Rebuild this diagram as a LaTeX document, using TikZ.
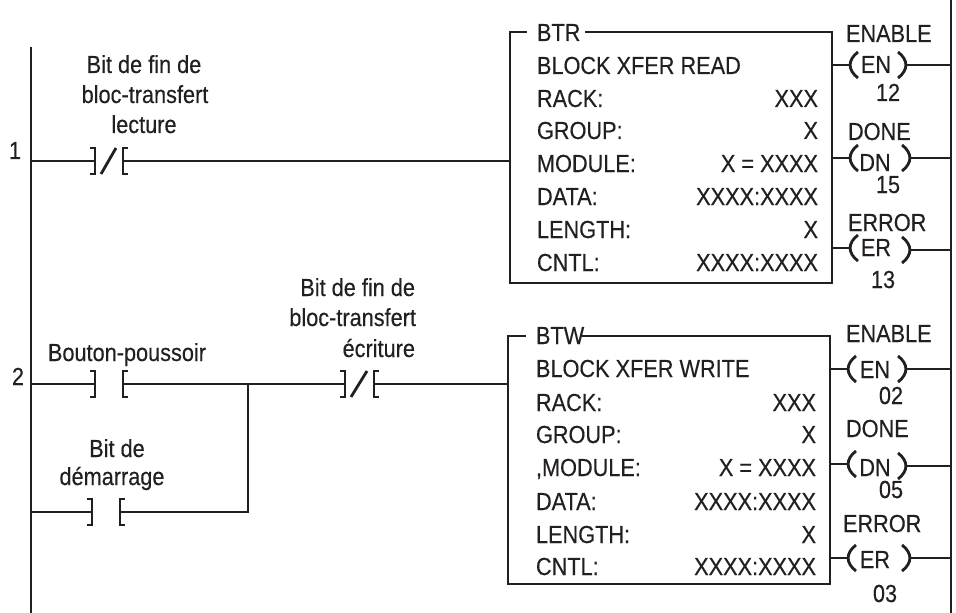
\documentclass[tikz,border=0pt]{standalone}
\usepackage{fontspec}
\setmainfont[FakeStretch=0.88,FakeBold=0.3]{Liberation Sans}
\definecolor{ink}{HTML}{231F20}
\tikzset{
  wire/.style={draw=ink,line width=2.1pt,line cap=butt},
  thin wire/.style={draw=ink,line width=2.1pt},
  lbl/.style={anchor=base,inner sep=0pt,outer sep=0pt,text=ink,font=\fontsize{18.5pt}{19pt}\selectfont},
  lblL/.style={lbl,anchor=base west},
  lblR/.style={lbl,anchor=base east},
  block/.style={draw=ink,line width=2.1pt,rectangle,inner sep=0pt,outer sep=0pt,fill=white}
}
\newcommand{\brackets}[2]{%
  \draw[thin wire] ([shift={(-5,-13)}]#1) -- ++(5,0) -- ++(0,26) -- ++(-5,0);
  \draw[thin wire] ([shift={(5,-13)}]#2) -- ++(-5,0) -- ++(0,26) -- ++(5,0);}
\newcommand{\slashmark}[2]{%
  \draw[thin wire] ([shift={(6,13)}]#1) -- ([shift={(-7,-13)}]#2);}
\newcommand{\parens}[2]{%
  \draw[thin wire] ([shift={(8,-13)}]#1) .. controls ([shift={(-2.5,-5)}]#1) and ([shift={(-2.5,5)}]#1) .. ([shift={(8,13)}]#1);
  \draw[thin wire] ([shift={(-8,-13)}]#2) .. controls ([shift={(2.5,-5)}]#2) and ([shift={(2.5,5)}]#2) .. ([shift={(-8,13)}]#2);}
\begin{document}
\begin{tikzpicture}[x=0.75pt,y=-0.75pt]
\useasboundingbox (0,0) rectangle (956,613);
\fill[white] (0,0) rectangle (956,613);

% rails
\coordinate (railLtop) at (31,47);
\coordinate (railLbot) at (31,613);
\coordinate (railRtop) at (951,0);
\coordinate (railRbot) at (951,613);
\draw[wire] (railLtop) -- (railLbot);
\draw[wire] (railRtop) -- (railRbot);

% blocks
\node[block,minimum width=322*0.75pt,minimum height=251*0.75pt] (blockA) at (671,157.5) {};
\node[block,minimum width=322*0.75pt,minimum height=248*0.75pt] (blockB) at (669,460) {};
\fill[white] (527,28) rectangle (585,36);
\fill[white] (526,332) rectangle (582,340);

% rung 1
\coordinate (r1) at (31,161);
\coordinate (k1a) at (95,161);
\coordinate (k1b) at (123,161);
\coordinate (b1in) at (blockA.west |- k1b);
\draw[wire] (r1) -- (k1a);
\draw[wire] (k1b) -- (b1in);
\brackets{k1a}{k1b}
\slashmark{k1a}{k1b}

% rung 2
\coordinate (r2) at (31,384);
\coordinate (k2a) at (95,384);
\coordinate (k2b) at (123,384);
\coordinate (j2) at (248,384);
\coordinate (k4a) at (345,384);
\coordinate (k4b) at (374,384);
\coordinate (b2in) at (blockB.west |- k4b);
\draw[wire] (r2) -- (k2a);
\draw[wire] (k2b) -- (j2) -- (k4a);
\draw[wire] (k4b) -- (b2in);
\brackets{k2a}{k2b}
\brackets{k4a}{k4b}
\slashmark{k4a}{k4b}
% branch
\coordinate (r3) at (31,512);
\coordinate (k3a) at (92,512);
\coordinate (k3b) at (120,512);
\coordinate (j3) at (248,512);
\draw[wire] (r3) -- (k3a);
\draw[wire] (k3b) -- (j3) -- (j2);
\brackets{k3a}{k3b}

% coils of block A
\coordinate (c1l) at (850,65);  \coordinate (c1r) at (906,65);
\coordinate (c2l) at (850,158); \coordinate (c2r) at (910,158);
\coordinate (c3l) at (850,248); \coordinate (c3r) at (910,250);
\draw[wire] (blockA.east |- c1l) -- (c1l); \draw[wire] (c1r) -- (c1r -| railRtop);
\draw[wire] (blockA.east |- c2l) -- (c2l); \draw[wire] (c2r) -- (c2r -| railRtop);
\draw[wire] (blockA.east |- c3l) -- (c3l); \draw[wire] (c3r) -- (c3r -| railRtop);
\parens{c1l}{c1r}
\parens{c2l}{c2r}
\parens{c3l}{c3r}

% coils of block B
\coordinate (c4l) at (848,369); \coordinate (c4r) at (906,369);
\coordinate (c5l) at (848,464); \coordinate (c5r) at (906,466);
\coordinate (c6l) at (848,558); \coordinate (c6r) at (910,558);
\draw[wire] (blockB.east |- c4l) -- (c4l); \draw[wire] (c4r) -- (c4r -| railRtop);
\draw[wire] (blockB.east |- c5l) -- (c5l); \draw[wire] (c5r) -- (c5r -| railRtop);
\draw[wire] (blockB.east |- c6l) -- (c6l); \draw[wire] (c6r) -- (c6r -| railRtop);
\parens{c4l}{c4r}
\parens{c5l}{c5r}
\parens{c6l}{c6r}

% left labels
\node[lbl] (n1) at (15,159) {1};
\node[lbl] (n2) at (18,385) {2};
\node[lbl] (t1a) at (144,73) {Bit de fin de};
\node[lbl] (t1b) at (145,103) {bloc-transfert};
\node[lbl] (t1c) at (144,133) {lecture};
\node[lbl] (t2) at (127,361) {Bouton-poussoir};
\node[lbl] (t3a) at (117,457) {Bit de};
\node[lbl] (t3b) at (112,485) {démarrage};
\node[lblR] (t4a) at (415,296) {Bit de fin de};
\node[lblR] (t4b) at (416,326) {bloc-transfert};
\node[lblR] (t4c) at (415,357) {écriture};

% block A text
\node[lblL] (aT) at (537,41) {BTR};
\node[lblL] (a0) at (537,74) {BLOCK XFER READ};
\node[lblL] (a1) at (537,107) {RACK:};
\node[lblL] (a2) at (537,139) {GROUP:};
\node[lblL] (a3) at (537,172) {MODULE:};
\node[lblL] (a4) at (537,205) {DATA:};
\node[lblL] (a5) at (537,238) {LENGTH:};
\node[lblL] (a6) at (537,271) {CNTL:};
\node[lblR] (av1) at (818,107) {XXX};
\node[lblR] (av2) at (818,139) {X};
\node[lblR] (av3) at (818,172) {X = XXXX};
\node[lblR] (av4) at (818,205) {XXXX:XXXX};
\node[lblR] (av5) at (818,238) {X};
\node[lblR] (av6) at (818,271) {XXXX:XXXX};

% block B text
\node[lblL] (bT) at (536,344) {BTW};
\node[lblL] (b0) at (536,377) {BLOCK XFER WRITE};
\node[lblL] (b1) at (536,411) {RACK:};
\node[lblL] (b2) at (536,443) {GROUP:};
\node[lblL] (b3) at (536,476) {,MODULE:};
\node[lblL] (b4) at (536,510) {DATA:};
\node[lblL] (b5) at (536,543) {LENGTH:};
\node[lblL] (b6) at (536,575) {CNTL:};
\node[lblR] (bv1) at (816,411) {XXX};
\node[lblR] (bv2) at (816,443) {X};
\node[lblR] (bv3) at (816,476) {X = XXXX};
\node[lblR] (bv4) at (816,510) {XXXX:XXXX};
\node[lblR] (bv5) at (816,543) {X};
\node[lblR] (bv6) at (816,575) {XXXX:XXXX};

% coil text A
\node[lblL] (e1) at (846,42) {ENABLE};
\node[lbl] (e1i) at (876,73) {EN};
\node[lbl] (e1n) at (888,101) {12};
\node[lblL] (e2) at (848,140) {DONE};
\node[lbl] (e2i) at (875,171) {DN};
\node[lbl] (e2n) at (888,193) {15};
\node[lblL] (e3) at (848,231) {ERROR};
\node[lbl] (e3i) at (876,256) {ER};
\node[lbl] (e3n) at (883,288) {13};

% coil text B
\node[lblL] (f1) at (846,342) {ENABLE};
\node[lbl] (f1i) at (875,378) {EN};
\node[lbl] (f1n) at (891,404) {02};
\node[lblL] (f2) at (846,437) {DONE};
\node[lbl] (f2i) at (875,476) {DN};
\node[lbl] (f2n) at (891,498) {05};
\node[lblL] (f3) at (843,532) {ERROR};
\node[lbl] (f3i) at (875,568) {ER};
\node[lbl] (f3n) at (885,602) {03};
\end{tikzpicture}
\end{document}
